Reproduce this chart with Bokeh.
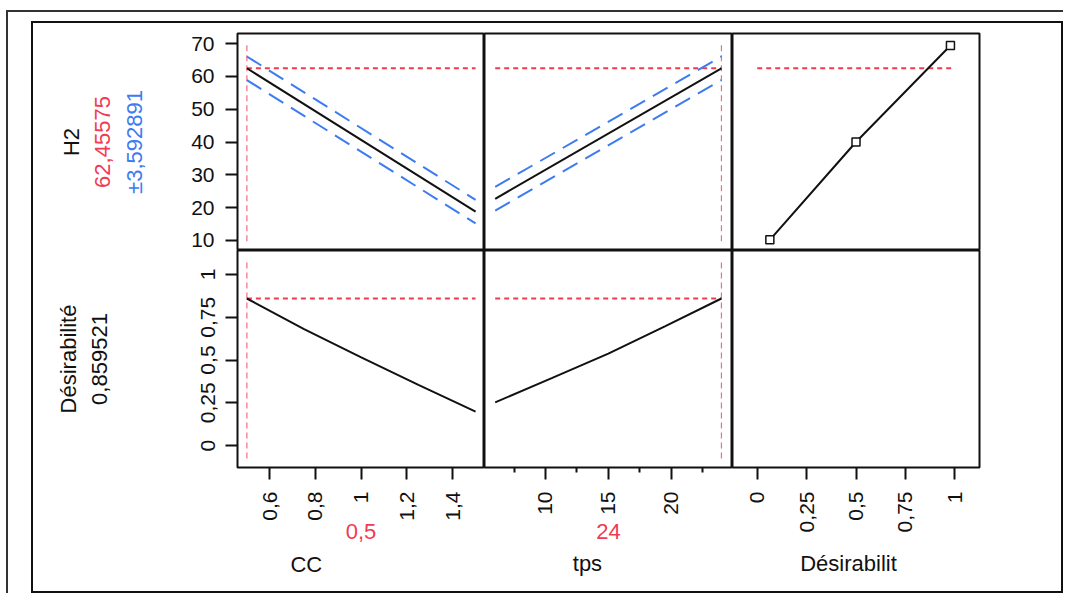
import math
from bokeh.plotting import figure
from bokeh.layouts import column, row
from bokeh.models import Range1d, FixedTicker, CustomJSTickFormatter, LinearAxis
from bokeh.embed import file_html
from bokeh.resources import INLINE

# ---------------- data ----------------
opt_cc = 0.5
opt_tps = 24
opt_h2 = 62.45575
opt_ci = 3.592891
opt_d = 0.859521

cc_vals = [0.5, 1.5]
h2_vs_cc = [62.46, 18.8]
h2_vs_cc_hi = [66.05, 22.4]
h2_vs_cc_lo = [58.87, 15.2]

tps_vals = [6, 24]
h2_vs_tps = [22.7, 62.46]
h2_vs_tps_hi = [26.3, 66.05]
h2_vs_tps_lo = [19.1, 58.87]

cc_grid = [0.5, 0.75, 1.0, 1.25, 1.5]
d_vs_cc = [0.8595, 0.68, 0.515, 0.355, 0.199]
tps_grid = [6, 10.5, 15, 19.5, 24]
d_vs_tps = [0.253, 0.394, 0.537, 0.697, 0.8595]

des_vals = [0.064, 0.5, 0.978]
h2_vs_des = [10.2, 40.0, 69.4]

h2_ticks = [10, 20, 30, 40, 50, 60, 70]
d_ticks = [0, 0.25, 0.5, 0.75, 1]
cc_ticks = [0.6, 0.8, 1.0, 1.2, 1.4]
tps_ticks = [10, 15, 20]
tps_minor = [7.5, 12.5, 17.5, 22.5]

row_titles = ["H2", "Désirabilité"]
col_titles = ["CC", "tps", "Désirabilit"]
row_values = ["62,45575", "±3,592891", "0,859521"]
col_values = ["0,5", "24"]

# ---------------- styling ----------------
FONT = "Liberation Sans"
RED = "#f23b50"
BLUE = "#3c7cf2"
INK = "#111111"

x_cc = Range1d(0.459, 1.539)
x_tps = Range1d(5.15, 24.88)
x_des = Range1d(-0.125, 1.125)
y_h2 = Range1d(6.95, 73.05)
y_d = Range1d(-0.128, 1.14)

fmt = CustomJSTickFormatter(code="return String(tick).replace('.', ',');")
UP = math.pi / 2


def mk(w, h, xr, yr, left=0, right=0, top=0, bottom=0):
    p = figure(width=w, height=h, x_range=xr, y_range=yr, output_backend="svg",
               toolbar_location=None, tools="", x_axis_location=None, y_axis_location=None,
               min_border_left=left, min_border_right=right,
               min_border_top=top, min_border_bottom=bottom)
    p.grid.visible = False
    p.outline_line_color = INK
    p.outline_line_width = 2
    p.outline_line_alpha = 1
    p.background_fill_color = "white"
    p.border_fill_color = "white"
    return p


def tick_axis(p, side, ticks, orient=None, standoff=10, minor=None):
    ticker = FixedTicker(ticks=ticks, minor_ticks=minor or [])
    ax = LinearAxis(ticker=ticker, formatter=fmt)
    ax.axis_line_color = None
    ax.major_tick_out = 12
    ax.major_tick_in = 0
    ax.major_tick_line_width = 2
    ax.major_tick_line_color = INK
    ax.minor_tick_out = 5
    ax.minor_tick_in = 0
    ax.minor_tick_line_width = 2
    ax.minor_tick_line_color = INK
    ax.major_label_text_font = FONT
    ax.major_label_text_font_size = "21px"
    ax.major_label_text_color = INK
    ax.major_label_standoff = standoff
    if orient is not None:
        ax.major_label_orientation = orient
    p.add_layout(ax, side)


def _bare(ax):
    ax.axis_line_color = None
    ax.major_tick_line_color = None
    ax.minor_tick_line_color = None
    ax.major_tick_out = 0
    ax.major_tick_in = 0
    ax.minor_tick_out = 0
    ax.minor_tick_in = 0


def title_axis(p, side, text, color, standoff):
    ax = LinearAxis(ticker=FixedTicker(ticks=[]), axis_label=text)
    _bare(ax)
    ax.major_label_standoff = 0
    ax.axis_label_text_font = FONT
    ax.axis_label_text_font_size = "22px"
    ax.axis_label_text_font_style = "normal"
    ax.axis_label_text_color = color
    ax.axis_label_standoff = standoff
    p.add_layout(ax, side)


def placed_title(p, side, pos, text, color, standoff):
    # a title placed at a chosen position along the axis
    ax = LinearAxis(ticker=FixedTicker(ticks=[pos]),
                    formatter=CustomJSTickFormatter(args=dict(t=text), code="return t;"))
    _bare(ax)
    ax.major_label_text_font = FONT
    ax.major_label_text_font_size = "22px"
    ax.major_label_text_color = color
    ax.major_label_standoff = standoff
    p.add_layout(ax, side)


VL = dict(line_color=RED, line_width=1.2, line_dash="6 4", line_alpha=0.75)
HL = dict(line_color=RED, line_width=2, line_dash="5 4")
BL = dict(line_color=BLUE, line_width=2, line_dash="17 9")
KL = dict(line_color=INK, line_width=2)

# ---------------- row 1 ----------------
f11 = mk(451, 227, x_cc, y_h2, left=204, top=10)
tick_axis(f11, "left", h2_ticks, standoff=11)
title_axis(f11, "left", row_values[1], BLUE, 42)
title_axis(f11, "left", row_values[0], RED, 9)
title_axis(f11, "left", row_titles[0], INK, 8)
f11.line([opt_cc, opt_cc], [9.8, 70.1], **VL)
f11.line([cc_vals[0], cc_vals[-1]], [opt_h2, opt_h2], **HL)
f11.line(cc_vals, h2_vs_cc_hi, **BL)
f11.line(cc_vals, h2_vs_cc_lo, **BL)
f11.line(cc_vals, h2_vs_cc, **KL)

f12 = mk(248, 227, x_tps, y_h2, top=10)
f12.line([opt_tps, opt_tps], [9.8, 70.1], **VL)
f12.line([tps_vals[0], tps_vals[-1]], [opt_h2, opt_h2], **HL)
f12.line(tps_vals, h2_vs_tps_hi, **BL)
f12.line(tps_vals, h2_vs_tps_lo, **BL)
f12.line(tps_vals, h2_vs_tps, **KL)

f13 = mk(329, 227, x_des, y_h2, right=82, top=10)
f13.line([0, 1], [opt_h2, opt_h2], **HL)
f13.line(des_vals, h2_vs_des, **KL)
f13.scatter(des_vals, h2_vs_des, marker="square", size=8, line_color=INK,
            line_width=1.5, fill_color="white")

# ---------------- row 2 ----------------
f21 = mk(451, 341, x_cc, y_d, left=204, bottom=124)
tick_axis(f21, "left", d_ticks, orient="vertical", standoff=10)
title_axis(f21, "left", row_values[2], INK, 92)
title_axis(f21, "left", row_titles[1], INK, 8)
tick_axis(f21, "below", cc_ticks, orient=UP, standoff=12)
title_axis(f21, "below", col_values[0], RED, 0)
placed_title(f21, "below", 0.76, col_titles[0], INK, 10)
f21.line([opt_cc, opt_cc], [-0.075, 1.08], **VL)
f21.line([cc_vals[0], cc_vals[-1]], [opt_d, opt_d], **HL)
f21.line(cc_grid, d_vs_cc, **KL)

f22 = mk(248, 341, x_tps, y_d, bottom=124)
tick_axis(f22, "below", tps_ticks, orient=UP, standoff=12, minor=tps_minor)
title_axis(f22, "below", col_values[1], RED, 6)
placed_title(f22, "below", 13.34, col_titles[1], INK, 9)
f22.line([opt_tps, opt_tps], [-0.075, 1.08], **VL)
f22.line([tps_vals[0], tps_vals[-1]], [opt_d, opt_d], **HL)
f22.line(tps_grid, d_vs_tps, **KL)

f23 = mk(329, 341, x_des, y_d, right=82, bottom=124)
tick_axis(f23, "below", d_ticks, orient=UP, standoff=12)
placed_title(f23, "below", 0.462, col_titles[2], INK, 15)

inner = column(row(f11, f12, f13), row(f21, f22, f23),
               styles={"border": "2px solid #111"})
outer = column(inner, styles={"border-top": "2px solid #333", "border-left": "2px solid #333",
                              "margin-top": "10px", "margin-left": "6px",
                              "padding-left": "23px", "padding-top": "9px"})

open("out.html", "w").write(file_html(outer, INLINE))
